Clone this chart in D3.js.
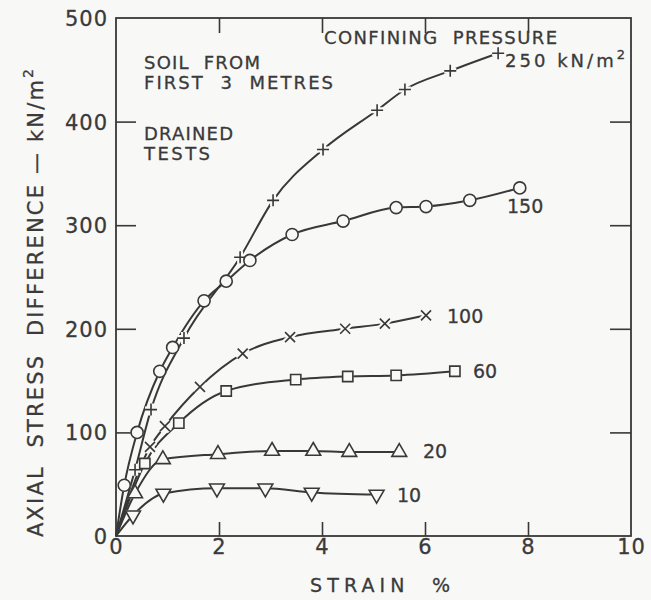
<!DOCTYPE html>
<html>
<head>
<meta charset="utf-8">
<script src="https://cdn.jsdelivr.net/npm/d3@7/dist/d3.min.js"></script>
<style>
  html, body { margin: 0; padding: 0; background: #f8f8f6; }
  svg { display: block; }
  text { font-family: "DejaVu Sans", sans-serif; fill: #3a3a3a; stroke: #3a3a3a; stroke-width: 0.3; white-space: pre; }
</style>
</head>
<body>
<svg id="chart" width="651" height="600"></svg>
<script>
// ---------- data (strain %, axial stress difference kN/m²) ----------
const xTicks = [0, 2, 4, 6, 8, 10];
const yTicks = [0, 100, 200, 300, 400, 500];
const pressures = ["250", "150", "100", "60", "20", "10"];
const markers   = ["plus", "circle", "cross", "square", "triangle", "triangleDown"];

const strain250 = [0, 0.37, 0.68, 1.32, 2.41, 3.05, 4.02, 5.07, 5.61, 6.49, 7.42];
const stress250 = [0, 64, 122, 191, 269, 324, 373, 411, 431, 449, 466];

const strain150 = [0, 0.16, 0.41, 0.85, 1.10, 1.71, 2.14, 2.60, 3.42, 4.41, 5.44, 6.02, 6.87, 7.84];
const stress150 = [0, 49, 100, 159, 182, 227, 246, 266, 291, 304, 317, 318, 324, 336];

const strain100 = [0, 0.66, 0.95, 1.63, 2.46, 3.38, 4.45, 5.22, 6.02];
const stress100 = [0, 86, 106, 144, 176, 192, 200, 205, 213];

const strain60 = [0, 0.56, 1.22, 2.14, 3.49, 4.50, 5.44, 6.58];
const stress60 = [0, 70, 109, 140, 151, 154, 155, 159];

const strain20 = [0, 0.37, 0.91, 1.98, 3.03, 3.83, 4.53, 5.50];
const stress20 = [0, 41, 74, 79, 82, 82, 81, 81];

const strain10 = [0, 0.33, 0.92, 1.96, 2.90, 3.80, 5.06];
const stress10 = [0, 20, 41, 46, 46, 42, 40];

const strains = [strain250, strain150, strain100, strain60, strain20, strain10];
const stresses = [stress250, stress150, stress100, stress60, stress20, stress10];

// ---------- layout ----------
const svg = d3.select("#chart");
const ink = "#383838";
const bg = "#f8f8f6";
const L = 116, R = 631, T = 18, B = 536;
const x = d3.scaleLinear().domain([0, 10]).range([L, R]);
const y = d3.scaleLinear().domain([0, 500]).range([B, T]);

// frame
svg.append("rect").attr("x", L).attr("y", T).attr("width", R - L).attr("height", B - T)
  .attr("fill", "none").attr("stroke", ink).attr("stroke-width", 1.8);

// axes with inner ticks
const innerY = yTicks.filter(v => v > 0 && v < 500);
const innerX = xTicks.filter(v => v > 0 && v < 10);

const gLeft = svg.append("g").attr("transform", `translate(${L},0)`)
  .call(d3.axisRight(y).tickValues(innerY).tickSize(20).tickFormat(""));
const gRight = svg.append("g").attr("transform", `translate(${R},0)`)
  .call(d3.axisLeft(y).tickValues(innerY).tickSize(21).tickFormat(""));
const gTop = svg.append("g").attr("transform", `translate(0,${T})`)
  .call(d3.axisBottom(x).tickValues(innerX).tickSize(15).tickFormat(""));
const gBot = svg.append("g").attr("transform", `translate(0,${B})`)
  .call(d3.axisTop(x).tickValues(innerX).tickSize(14).tickFormat(""));
[gLeft, gRight, gTop, gBot].forEach(g => {
  g.select(".domain").remove();
  g.selectAll("line").attr("stroke", ink).attr("stroke-width", 1.6);
});

// tick labels
const gYL = svg.append("g").attr("transform", `translate(${L},0)`)
  .call(d3.axisLeft(y).tickValues(yTicks).tickSize(0).tickPadding(8).tickFormat(d3.format("d")));
gYL.select(".domain").remove();
gYL.selectAll("text").attr("font-size", 21).attr("fill", ink)
  .attr("font-family", "DejaVu Sans").attr("letter-spacing", 1).attr("dy", "0.36em");

const gXL = svg.append("g").attr("transform", `translate(0,${B})`)
  .call(d3.axisBottom(x).tickValues(xTicks).tickSize(0).tickPadding(3).tickFormat(d3.format("d")));
gXL.select(".domain").remove();
gXL.selectAll("text").attr("font-size", 21).attr("fill", ink)
  .attr("font-family", "DejaVu Sans").attr("letter-spacing", 1);

// axis titles
svg.append("text").attr("x", 380).attr("y", 592).attr("text-anchor", "middle")
  .attr("font-size", 19).attr("textLength", 140).attr("lengthAdjust", "spacing")
  .text("STRAIN  %");

const yTitle = svg.append("text")
  .attr("transform", "translate(43,303) rotate(-90)")
  .attr("text-anchor", "middle").attr("font-size", 21)
  .attr("textLength", 468).attr("lengthAdjust", "spacing");
yTitle.append("tspan").text("AXIAL  STRESS  DIFFERENCE — kN/m");
yTitle.append("tspan").attr("font-size", 14).attr("dy", "-0.7em").text("2");

// ---------- curves ----------
const line = d3.line().x(d => x(d[0])).y(d => y(d[1])).curve(d3.curveMonotoneX);
const gCurves = svg.append("g");
const gMarks = svg.append("g");

function markerPath(kind) {
  const s = 6;
  switch (kind) {
    case "plus": return `M${-s},0H${s}M0,${-s}V${s}`;
    case "cross": return `M${-5},${-5}L5,5M5,${-5}L${-5},5`;
    case "circle": return d3.symbol(d3.symbolCircle, 115)();
    case "square": return d3.symbol(d3.symbolSquare, 105)();
    case "triangle": return d3.symbol(d3.symbolTriangle, 95)();
    case "triangleDown": return d3.symbol(d3.symbolTriangle, 95)();
  }
}

strains.forEach((xs, i) => {
  const pts = xs.map((v, j) => [v, stresses[i][j]]);
  gCurves.append("path").attr("d", line(pts))
    .attr("fill", "none").attr("stroke", ink).attr("stroke-width", 2);
  const kind = markers[i];
  const open = !(kind === "plus" || kind === "cross");
  pts.slice(1).forEach(p => {
    const rot = kind === "triangleDown" ? " rotate(180)" : "";
    const tr = `translate(${x(p[0])},${y(p[1])})${rot}`;
    // light halo to break the line at the marker
    gMarks.append("path").attr("d", markerPath(kind)).attr("transform", tr)
      .attr("fill", open ? bg : "none").attr("stroke", bg)
      .attr("stroke-width", open ? 1 : 6);
    gMarks.append("path").attr("d", markerPath(kind)).attr("transform", tr)
      .attr("fill", open ? bg : "none").attr("stroke", ink).attr("stroke-width", 1.6);
  });
});

// ---------- annotations ----------
function label(txt, xx, yy, len, size) {
  const t = svg.append("text").attr("x", xx).attr("y", yy).attr("font-size", size || 18).text(txt);
  if (len) t.attr("textLength", len).attr("lengthAdjust", "spacing");
}
label("SOIL  FROM", 144, 69, 116);
label("FIRST  3  METRES", 144, 89, 189);
label("DRAINED", 144, 140, 89);
label("TESTS", 144, 160, 66);
label("CONFINING  PRESSURE", 324, 44, 233);

const t250 = svg.append("text").attr("x", 505).attr("y", 67).attr("font-size", 18)
  .attr("textLength", 120).attr("lengthAdjust", "spacing");
t250.append("tspan").text(pressures[0] + " kN/m");
t250.append("tspan").attr("font-size", 13).attr("dy", "-0.6em").text("2");

label(pressures[1], 507, 213, null, 19);
label(pressures[2], 447, 323, null, 19);
label(pressures[3], 473, 378, null, 19);
label(pressures[4], 423, 458, null, 19);
label(pressures[5], 397, 502, null, 19);
</script>
</body>
</html>
